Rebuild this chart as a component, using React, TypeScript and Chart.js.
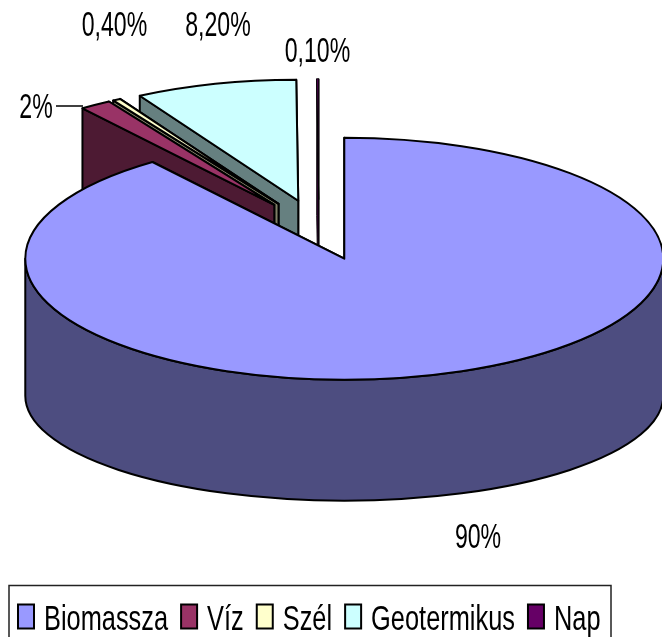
import React, { useEffect, useRef } from "react";
import { Chart, registerables } from "chart.js";

Chart.register(...registerables);

const categories = ["Biomassza", "Víz", "Szél", "Geotermikus", "Nap"];
const shares = [90, 1.6, 0.4, 8.2, 0.1];
const shareLabels = ["90%", "2%", "0,40%", "8,20%", "0,10%"];
const topColors = ["#9999FF", "#993366", "#FFFFCC", "#CCFFFF", "#660066"];
const wallColors = ["#4D4D80", "#4D1A33", "#808066", "#668080", "#330033"];

const labelAnchors = [
  { x: 478, y: 548 },
  { x: 36, y: 118 },
  { x: 114.5, y: 36 },
  { x: 218, y: 36 },
  { x: 317.5, y: 62 },
];

const RADIUS = 319;
const TILT = 121 / 319;
const BOTTOM_TILT = 105 / 319;
const DEPTH = 137;
const EXPLODE = 0.25;
const FONT = '"Liberation Sans", Arial, sans-serif';

function squeezedText(ctx: any, text: string, x: number, y: number, size: number, sx: number) {
  ctx.save();
  ctx.translate(x, y);
  ctx.scale(sx, 1);
  ctx.font = `${size}px ${FONT}`;
  ctx.fillStyle = "#000";
  ctx.fillText(text, 0, 0);
  ctx.restore();
}

const pie3d = {
  id: "pie3d",
  beforeDatasetsDraw(chart: any) {
    const ctx = chart.ctx;
    const arcs = chart.getDatasetMeta(0).data.map((arc: any, i: number) => ({ arc, i }));
    arcs.sort(
      (a: any, b: any) =>
        Math.sin((a.arc.startAngle + a.arc.endAngle) / 2) -
        Math.sin((b.arc.startAngle + b.arc.endAngle) / 2)
    );
    ctx.save();
    ctx.lineJoin = "round";
    ctx.strokeStyle = "#000";
    for (const { arc, i } of arcs) {
      const rx = arc.outerRadius || RADIUS;
      const ry = rx * TILT;
      const ryB = rx * BOTTOM_TILT;
      const mid = (arc.startAngle + arc.endAngle) / 2;
      const cx = arc.x + Math.cos(mid) * EXPLODE * rx;
      const cy = arc.y + Math.sin(mid) * EXPLODE * ry;
      const px = (a: number) => cx + Math.cos(a) * rx;
      const py = (a: number) => cy + Math.sin(a) * ry;
      // hairline slices stay a single thin line
      ctx.lineWidth = arc.endAngle - arc.startAngle < 0.02 ? 1 : 2;
      ctx.fillStyle = wallColors[i];
      for (const edge of [arc.endAngle, arc.startAngle]) {
        ctx.beginPath();
        ctx.moveTo(cx, cy);
        ctx.lineTo(px(edge), py(edge));
        ctx.lineTo(px(edge), py(edge) + DEPTH);
        ctx.lineTo(cx, cy + DEPTH);
        ctx.closePath();
        ctx.fill();
        ctx.stroke();
      }
      // front curved wall
      const from = Math.max(arc.startAngle, 0);
      const to = Math.min(arc.endAngle, Math.PI);
      if (to > from) {
        ctx.beginPath();
        ctx.ellipse(cx, cy, rx, ry, 0, from, to);
        ctx.ellipse(cx, cy + DEPTH, rx, ryB, 0, to, from, true);
        ctx.closePath();
        ctx.fill();
        ctx.stroke();
      }
      // top face
      ctx.fillStyle = arc.options.backgroundColor;
      ctx.beginPath();
      ctx.moveTo(cx, cy);
      ctx.ellipse(cx, cy, rx, ry, 0, arc.startAngle, arc.endAngle);
      ctx.closePath();
      ctx.fill();
      ctx.stroke();
    }
    ctx.restore();
    return false;
  },
  afterDraw(chart: any) {
    const ctx = chart.ctx;
    ctx.save();
    // value labels
    ctx.textAlign = "center";
    ctx.textBaseline = "alphabetic";
    shareLabels.forEach((t, i) => {
      squeezedText(ctx, t, labelAnchors[i].x, labelAnchors[i].y, 35, 0.66);
    });
    // leader line of the 2% label
    ctx.strokeStyle = "#000";
    ctx.lineWidth = 1.5;
    ctx.beginPath();
    ctx.moveTo(56, 106);
    ctx.lineTo(83, 106);
    ctx.stroke();
    // legend
    ctx.strokeStyle = "#222";
    ctx.lineWidth = 1.5;
    ctx.strokeRect(9, 585.5, 602, 60);
    ctx.textAlign = "left";
    const sx = 0.725;
    let x = 18;
    categories.forEach((name, i) => {
      ctx.fillStyle = topColors[i];
      ctx.fillRect(x, 604.5, 16, 24);
      ctx.strokeStyle = "#000";
      ctx.lineWidth = 2;
      ctx.strokeRect(x, 604.5, 16, 24);
      ctx.font = `35px ${FONT}`;
      const w = ctx.measureText(name).width * sx;
      squeezedText(ctx, name, x + 26, 630, 35, sx);
      x += 26 + w + 13;
    });
    ctx.restore();
  },
};

export default function App() {
  const ref = useRef<HTMLCanvasElement>(null);
  useEffect(() => {
    const chart = new Chart(ref.current as any, {
      type: "pie",
      data: {
        labels: categories,
        datasets: [{ data: shares, backgroundColor: topColors, borderColor: "#000", borderWidth: 2 }],
      },
      options: {
        animation: false,
        responsive: false,
        radius: RADIUS,
        layout: { padding: { left: 0, top: 0, right: 24, bottom: 177 } },
        plugins: { legend: { display: false }, tooltip: { enabled: false } },
      } as any,
      plugins: [pie3d as any],
    });
    return () => chart.destroy();
  }, []);
  return (
    <div style={{ position: "absolute", left: 0, top: 0, width: 662, height: 637, overflow: "hidden", background: "#fff" }}>
      <canvas ref={ref} width={662} height={637} style={{ display: "block" }} />
    </div>
  );
}
